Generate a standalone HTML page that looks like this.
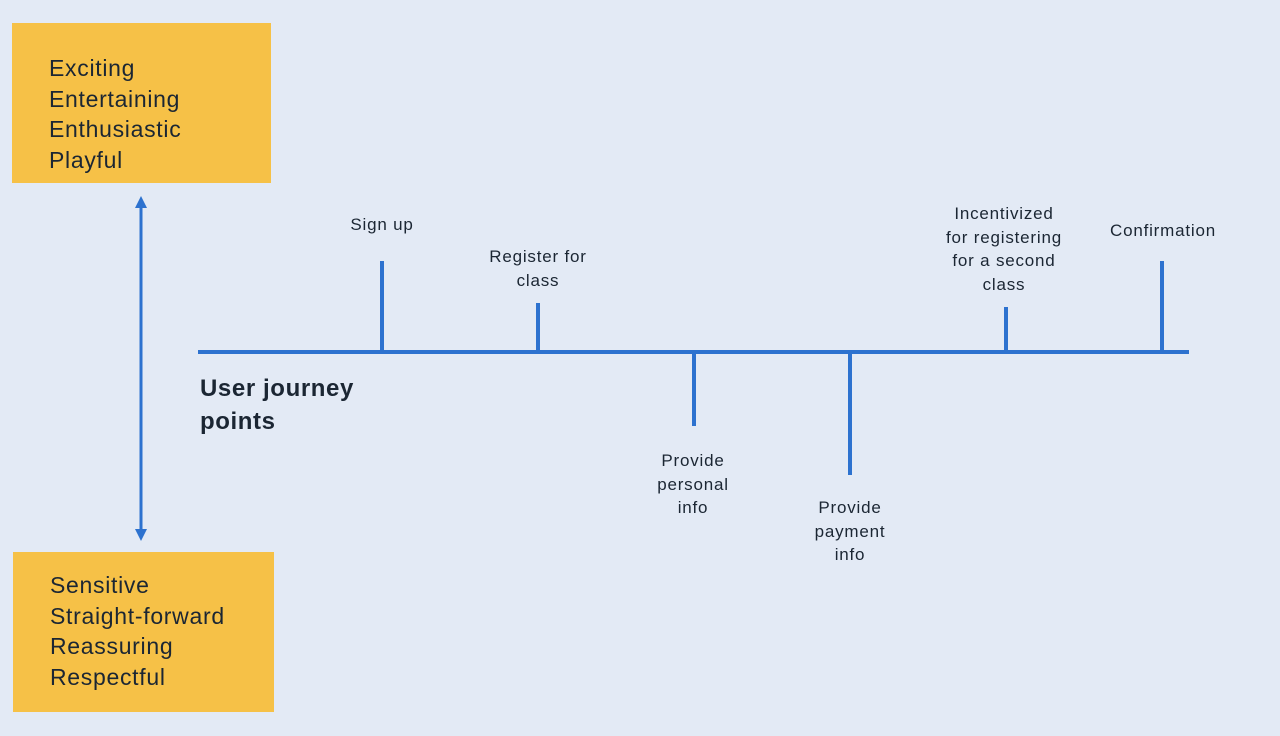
<!DOCTYPE html>
<html><head><style>
body{margin:0;width:1280px;height:736px;background:#e3eaf5;position:relative;overflow:hidden;font-family:"Liberation Sans",sans-serif;color:#1b2633}
.box{position:absolute;background:#f6c147;font-size:23px;letter-spacing:0.7px;line-height:30.5px;padding-left:37px;box-sizing:border-box}
.l{position:absolute;font-size:17px;letter-spacing:0.8px;line-height:23.5px;text-align:center;width:220px}
.t{position:absolute;background:#2d72cf;width:4px}
</style></head><body>
<div class="box" style="left:12px;top:23px;width:259px;height:160px;padding-top:30px">Exciting<br>Entertaining<br>Enthusiastic<br>Playful</div>
<div class="box" style="left:13px;top:552px;width:261px;height:160px;padding-top:18px">Sensitive<br>Straight-forward<br>Reassuring<br>Respectful</div>
<svg style="position:absolute;left:0;top:0" width="1280" height="736">
<line x1="141" y1="205" x2="141" y2="532" stroke="#2d72cf" stroke-width="3"/>
<polygon points="141,196 135,208 147,208" fill="#2d72cf"/>
<polygon points="141,541 135,529 147,529" fill="#2d72cf"/>
<rect x="198" y="350" width="991" height="4" fill="#2d72cf"/>
</svg>
<div class="t" style="left:380px;top:261px;height:91px"></div>
<div class="t" style="left:536px;top:303px;height:49px"></div>
<div class="t" style="left:692px;top:352px;height:74px"></div>
<div class="t" style="left:848px;top:352px;height:123px"></div>
<div class="t" style="left:1004px;top:307px;height:45px"></div>
<div class="t" style="left:1160px;top:261px;height:91px"></div>
<div style="position:absolute;left:200px;top:372px;font-size:24px;letter-spacing:0.6px;font-weight:bold;line-height:33px">User journey<br>points</div>
<div class="l" style="left:272px;top:213px">Sign up</div>
<div class="l" style="left:428px;top:245px">Register for<br>class</div>
<div class="l" style="left:583px;top:449px">Provide<br>personal<br>info</div>
<div class="l" style="left:740px;top:496px">Provide<br>payment<br>info</div>
<div class="l" style="left:894px;top:202px">Incentivized<br>for registering<br>for a second<br>class</div>
<div class="l" style="left:1053px;top:219px">Confirmation</div>
</body></html>
